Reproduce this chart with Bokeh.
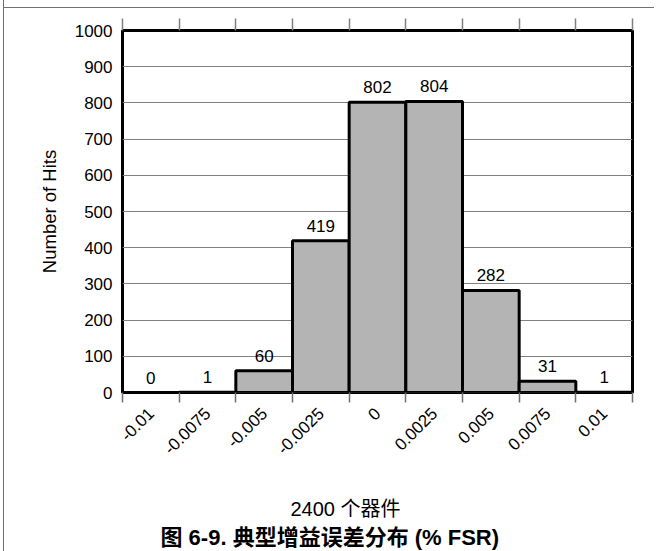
from bokeh.plotting import figure
from bokeh.models import (FixedTicker, LinearAxis, Range1d, Title,
                          ColumnDataSource, LabelSet, InlineStyleSheet)
from bokeh.core.properties import value
from bokeh.embed import file_html
from bokeh.resources import INLINE
import math

# ---- data ----
bin_labels = ["-0.01", "-0.0075", "-0.005", "-0.0025", "0",
              "0.0025", "0.005", "0.0075", "0.01"]
hits = [0, 1, 60, 419, 802, 804, 282, 31, 1]
y_ticks = [0, 100, 200, 300, 400, 500, 600, 700, 800, 900, 1000]
x_title = "2400 个器件"
y_title = "Number of Hits"
fig_caption = "图 6-9. 典型增益误差分布 (% FSR)"

FONT = "'Liberation Sans', Arial, 'Noto Sans CJK SC', sans-serif"

n = len(hits)
centers = list(range(n))
lefts = [c - 0.5 for c in centers]
rights = [c + 0.5 for c in centers]
edges = lefts + [rights[-1]]

src = ColumnDataSource(dict(left=lefts, right=rights, top=hits,
                            bottom=[0] * n, x=centers,
                            label=[str(h) for h in hits]))

p = figure(frame_width=510, frame_height=362,
           output_backend="svg", toolbar_location=None,
           x_range=Range1d(edges[0], edges[-1]), y_range=Range1d(0, 1000),
           min_border_left=122, min_border_right=22, min_border_top=30,
           min_border_bottom=150)
p.background_fill_color = "white"
p.border_fill_color = "white"
p.outline_line_color = "black"
p.outline_line_width = 3

# page frame rules (left and top), as in the source document
p.stylesheets = [InlineStyleSheet(css="""
:host { position: relative; }
:host::before { content: ""; position: absolute; left: 3px; top: 0px;
  width: 1px; bottom: 0px; background: #707070; z-index: 100;
  pointer-events: none; }
:host::after { content: ""; position: absolute; left: 3px; top: 7px;
  right: 0px; height: 1px; background: #707070; z-index: 100;
  pointer-events: none; }
""")]

# grid
p.xgrid.visible = False
p.ygrid.ticker = FixedTicker(ticks=y_ticks)
p.ygrid.grid_line_color = "#808080"
p.ygrid.grid_line_width = 1

# y axis
ya = p.yaxis[0]
ya.ticker = FixedTicker(ticks=y_ticks)
ya.axis_line_color = None
ya.major_tick_out = 0
ya.major_tick_in = 0
ya.minor_tick_out = 0
ya.minor_tick_in = 0
ya.major_label_text_font = FONT
ya.major_label_text_font_size = "17px"
ya.major_label_text_color = "black"
ya.major_label_standoff = 10
ya.axis_label = y_title
ya.axis_label_text_font = FONT
ya.axis_label_text_font_size = "18.5px"
ya.axis_label_text_font_style = "normal"
ya.axis_label_text_color = "black"
ya.axis_label_standoff = 12

# bottom x axis: labels at bin centres, ticks at bin edges
xa = p.xaxis[0]
xa.ticker = FixedTicker(ticks=centers, minor_ticks=edges)
xa.major_label_overrides = {c: lab for c, lab in zip(centers, bin_labels)}
xa.axis_line_color = None
xa.major_tick_out = 0
xa.major_tick_in = 0
xa.minor_tick_out = 10
xa.minor_tick_in = 0
xa.minor_tick_line_color = "#707070"
xa.minor_tick_line_width = 1.5
xa.major_label_orientation = math.pi / 4
xa.major_label_text_font = FONT
xa.major_label_text_font_size = "17px"
xa.major_label_text_color = "black"
xa.major_label_standoff = 8

# top axis: edge ticks only, no labels
ta = LinearAxis(ticker=FixedTicker(ticks=[], minor_ticks=edges))
ta.axis_line_color = None
ta.major_tick_out = 0
ta.major_tick_in = 0
ta.minor_tick_out = 12
ta.minor_tick_in = 0
ta.minor_tick_line_color = "#808080"
ta.minor_tick_line_width = 1.5
ta.major_label_standoff = 0
p.add_layout(ta, "above")

# bars
p.quad(left="left", right="right", top="top", bottom="bottom", source=src,
       fill_color="#b4b4b4", line_color="black", line_width=3)

labels = LabelSet(x="x", y="top", text="label", source=src,
                  text_align="center", text_baseline="middle", y_offset=15,
                  text_font=value(FONT), text_font_size=value("17px"),
                  text_color="black")
p.add_layout(labels)

# x title and caption
xt = Title(text=x_title, align="left", offset=168, standoff=66,
           text_font=FONT, text_font_size="20px",
           text_font_style="normal", text_color="black")
p.add_layout(xt, "below")
cap = Title(text=fig_caption, align="left", offset=38, standoff=-55,
            vertical_align="top",
            text_font=FONT, text_font_size="22px",
            text_font_style="bold", text_color="black")
p.add_layout(cap, "below")

open("out.html", "w").write(file_html(p, INLINE))
